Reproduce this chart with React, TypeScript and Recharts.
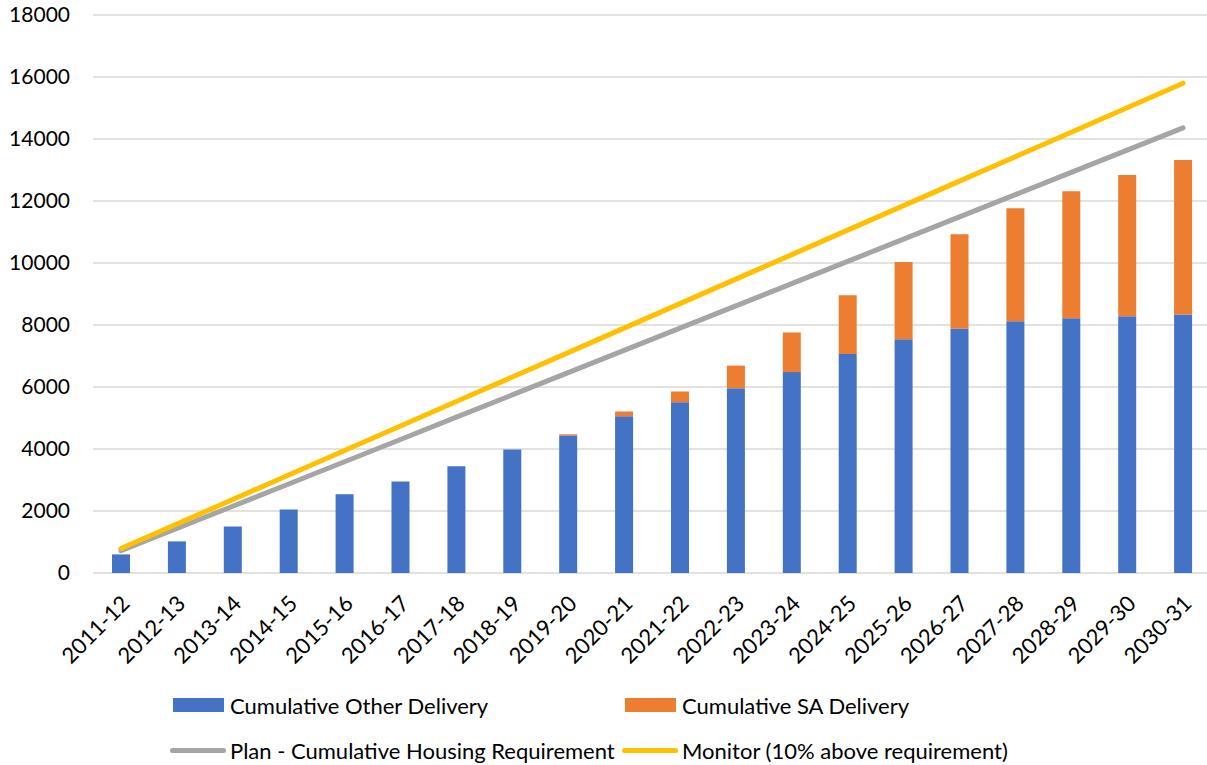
import React from 'react';
import { ComposedChart, Bar, Line, XAxis, YAxis, CartesianGrid, Legend } from 'recharts';

// Values
const years = [
  '2011-12', '2012-13', '2013-14', '2014-15', '2015-16', '2016-17', '2017-18', '2018-19', '2019-20', '2020-21',
  '2021-22', '2022-23', '2023-24', '2024-25', '2025-26', '2026-27', '2027-28', '2028-29', '2029-30', '2030-31',
];
const otherDelivery = [600, 1020, 1500, 2050, 2540, 2950, 3440, 3980, 4435, 5060, 5510, 5960, 6480, 7065, 7540, 7890, 8120, 8220, 8280, 8340];
const saDelivery = [0, 0, 0, 0, 0, 0, 0, 0, 40, 150, 345, 730, 1280, 1895, 2490, 3040, 3650, 4095, 4560, 4985];
const planRequirement = [718, 1436, 2154, 2872, 3590, 4308, 5026, 5744, 6462, 7180, 7898, 8616, 9334, 10052, 10770, 11488, 12206, 12924, 13642, 14360];
const monitorLine = [790, 1580, 2370, 3160, 3950, 4740, 5530, 6320, 7110, 7900, 8690, 9480, 10270, 11060, 11850, 12640, 13430, 14220, 15010, 15800];
const yTicks = [0, 2000, 4000, 6000, 8000, 10000, 12000, 14000, 16000, 18000];

const chartData = years.map((year, i) => ({
  year,
  other: otherDelivery[i],
  sa: saDelivery[i],
  plan: planRequirement[i],
  monitor: monitorLine[i],
}));

const FONT = 'Lato, "Noto Sans", sans-serif';

const XTick = (props: any) => {
  const { x, y, payload } = props;
  return (
    <g transform={`translate(${x + 10},${y + 24})`}>
      <text x={0} y={0} textAnchor="end" transform="rotate(-45)" fill="#000" fontSize={22} fontFamily={FONT}>
        {payload.value}
      </text>
    </g>
  );
};

const legendItems = [
  { label: 'Cumulative Other Delivery', color: '#4472C4', kind: 'rect', left: 173, top: 23 },
  { label: 'Cumulative SA Delivery', color: '#ED7D31', kind: 'rect', left: 625, top: 23 },
  { label: 'Plan - Cumulative Housing Requirement', color: '#A5A5A5', kind: 'line', left: 170, top: 68 },
  { label: 'Monitor (10% above requirement)', color: '#FFC000', kind: 'line', left: 622, top: 68 },
];

const renderLegend = () => (
  <div style={{ position: 'relative', width: 1207, height: 90, fontFamily: FONT, fontSize: 22, color: '#000' }}>
    {legendItems.map((item) => (
      <div key={item.label} style={{ position: 'absolute', left: item.left, top: item.top, display: 'flex', alignItems: 'center', height: 14, whiteSpace: 'nowrap' }}>
        {item.kind === 'rect' ? (
          <span style={{ display: 'inline-block', width: 51, height: 14, background: item.color }} />
        ) : (
          <span style={{ display: 'inline-block', width: 56, height: 5, borderRadius: 3, background: item.color }} />
        )}
        <span style={{ marginLeft: item.kind === 'rect' ? 6 : 4 }}>{item.label}</span>
      </div>
    ))}
  </div>
);

export default function App() {
  return (
    <div style={{ position: 'absolute', left: 0, top: 0, width: 1207, height: 765, overflow: 'hidden', background: '#fff' }}>
      <ComposedChart
        width={1211}
        height={765}
        data={chartData}
        margin={{ top: 15, right: 0, left: 0, bottom: 0 }}
      >
        <CartesianGrid horizontal vertical={false} stroke="#D9D9D9" strokeWidth={1.5} />
        <XAxis
          dataKey="year"
          interval={0}
          height={102}
          axisLine={false}
          tickLine={false}
          tick={<XTick />}
        />
        <YAxis
          domain={[0, 18000]}
          ticks={yTicks}
          width={93}
          axisLine={false}
          tickLine={false}
          tickMargin={17}
          tick={{ fill: '#000', fontSize: 21, fontFamily: FONT }}
        />
        <Legend verticalAlign="bottom" align="left" content={renderLegend} wrapperStyle={{ height: 90 }} />
        <Bar dataKey="other" stackId="a" fill="#4472C4" barSize={18} isAnimationActive={false} />
        <Bar dataKey="sa" stackId="a" fill="#ED7D31" barSize={18} isAnimationActive={false} />
        <Line type="linear" dataKey="plan" stroke="#A5A5A5" strokeWidth={5} strokeLinecap="round" dot={false} activeDot={false} isAnimationActive={false} />
        <Line type="linear" dataKey="monitor" stroke="#FFC000" strokeWidth={5} strokeLinecap="round" dot={false} activeDot={false} isAnimationActive={false} />
      </ComposedChart>
    </div>
  );
}
